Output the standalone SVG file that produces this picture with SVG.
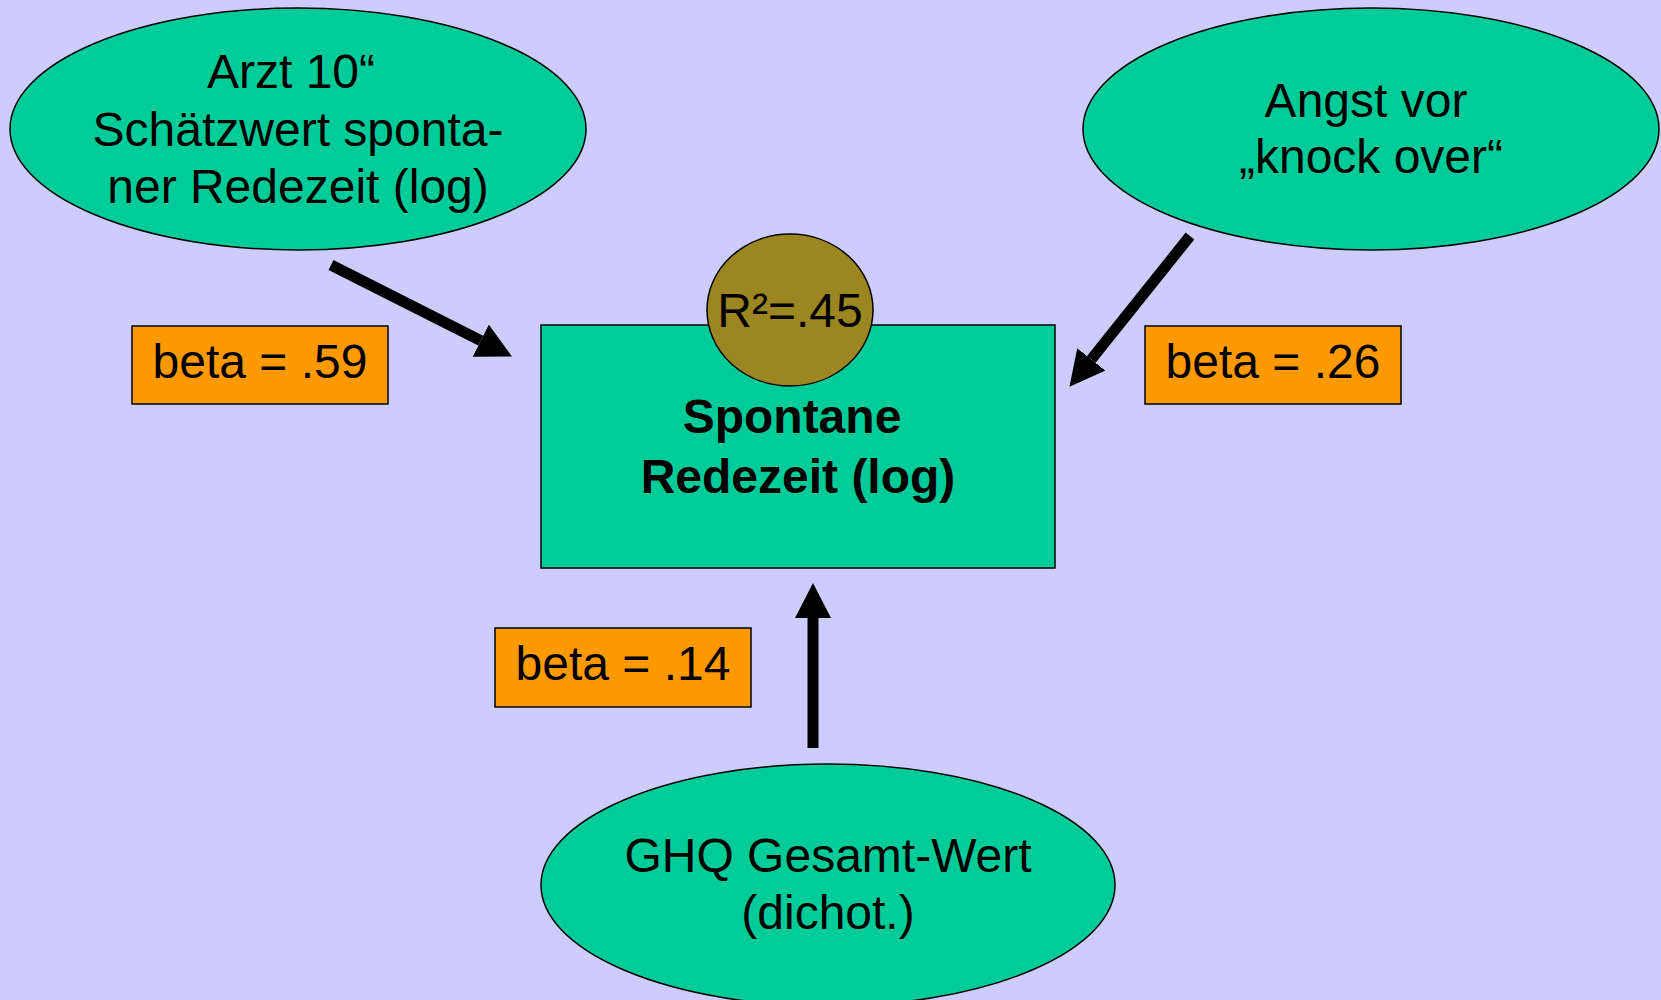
<svg xmlns="http://www.w3.org/2000/svg" width="1661" height="1000" viewBox="0 0 1661 1000">
<defs>
<style>
.bg{fill:#CCCCFF}
.node{fill:#00CC99;stroke:#000;stroke-width:1.5}
.beta{fill:#FF9900;stroke:#000;stroke-width:1.5}
.r2{fill:#9C8621;stroke:#000;stroke-width:1.5}
.t{font-family:"Liberation Sans",Arial,sans-serif;font-size:48px;fill:#000;text-anchor:middle}
.b{font-weight:bold}
.conn{stroke:#000;stroke-width:11;fill:none;marker-end:url(#ah)}
</style>
<marker id="ah" markerUnits="userSpaceOnUse" viewBox="0 0 35 36" refX="0" refY="18" markerWidth="35" markerHeight="36" orient="auto">
<path d="M0,0 L35,18 L0,36 Z" fill="#000"/>
</marker>
</defs>
<rect class="bg" x="0" y="0" width="1661" height="1000"/>
<g id="connectors">
<line class="conn" x1="331" y1="265" x2="480.7" y2="340.7"/>
<line class="conn" x1="1190" y1="236" x2="1091.3" y2="359.4"/>
<line class="conn" x1="813" y1="748" x2="813" y2="618"/>
</g>
<g id="node-arzt">
<ellipse class="node" cx="298" cy="129" rx="288" ry="121"/>
<text class="t" x="291" y="88">Arzt 10“</text>
<text class="t" x="298" y="146">Schätzwert sponta-</text>
<text class="t" x="298" y="203">ner Redezeit (log)</text>
</g>
<g id="node-angst">
<ellipse class="node" cx="1371" cy="129" rx="288" ry="121"/>
<text class="t" x="1366" y="117">Angst vor</text>
<text class="t" x="1371" y="173">„knock over“</text>
</g>
<g id="node-ghq">
<ellipse class="node" cx="828" cy="885" rx="287" ry="121"/>
<text class="t" x="828" y="872">GHQ Gesamt-Wert</text>
<text class="t" x="828" y="929">(dichot.)</text>
</g>
<g id="node-redezeit">
<rect class="node" x="541" y="325" width="514" height="243"/>
<text class="t b" x="792" y="433">Spontane</text>
<text class="t b" x="798" y="493">Redezeit (log)</text>
</g>
<g id="node-r2">
<ellipse class="r2" cx="790" cy="310" rx="83" ry="76"/>
<text class="t" x="790" y="327">R²=.45</text>
</g>
<g id="label-beta59">
<rect class="beta" x="132" y="326" width="256" height="78"/>
<text class="t" x="260" y="378">beta = .59</text>
</g>
<g id="label-beta26">
<rect class="beta" x="1145" y="326" width="256" height="78"/>
<text class="t" x="1273" y="378">beta = .26</text>
</g>
<g id="label-beta14">
<rect class="beta" x="495" y="628" width="256" height="79"/>
<text class="t" x="623" y="680">beta = .14</text>
</g>
</svg>
